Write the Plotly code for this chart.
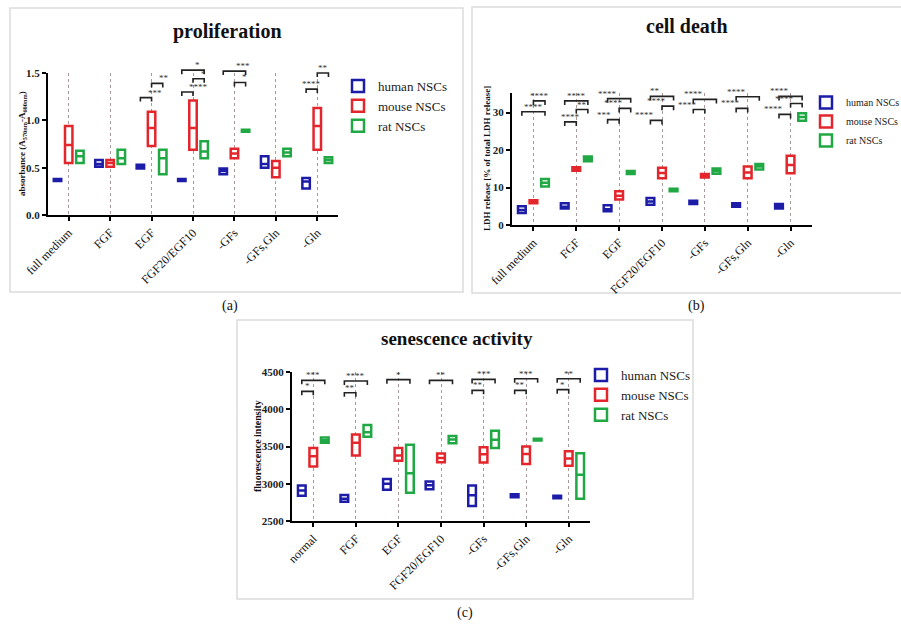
import plotly.graph_objects as go

# ---------------- data ----------------
cats_ab = ["full medium", "FGF", "EGF", "FGF20/EGF10", "-GFs", "-GFs,Gln", "-Gln"]
cats_c = ["normal", "FGF", "EGF", "FGF20/EGF10", "-GFs", "-GFs,Gln", "-Gln"]
species = ["human NSCs", "mouse NSCs", "rat NSCs"]
colors = ["#1c1ca8", "#e3262c", "#1fa843"]

# proliferation (absorbance): low / median / high
prolif_human_low = [0.36, 0.51, 0.49, 0.36, 0.43, 0.50, 0.28]
prolif_human_mid = [0.37, 0.54, 0.51, 0.37, 0.465, 0.54, 0.355]
prolif_human_high = [0.38, 0.58, 0.53, 0.38, 0.49, 0.62, 0.39]
prolif_mouse_low = [0.55, 0.51, 0.73, 0.69, 0.60, 0.40, 0.69]
prolif_mouse_mid = [0.74, 0.55, 0.92, 0.92, 0.65, 0.50, 0.94]
prolif_mouse_high = [0.94, 0.58, 1.09, 1.21, 0.70, 0.57, 1.13]
prolif_rat_low = [0.55, 0.54, 0.43, 0.60, 0.88, 0.62, 0.55]
prolif_rat_mid = [0.62, 0.60, 0.60, 0.67, 0.89, 0.66, 0.58]
prolif_rat_high = [0.68, 0.69, 0.69, 0.78, 0.90, 0.70, 0.61]

# cell death (LDH release %)
death_human_low = [3.2, 4.4, 3.7, 5.4, 5.6, 4.9, 4.4]
death_human_mid = [4.0, 4.9, 4.2, 6.3, 6.0, 5.3, 5.0]
death_human_high = [5.0, 5.8, 5.3, 7.2, 6.5, 5.8, 5.6]
death_mouse_low = [5.8, 14.5, 6.8, 12.5, 12.7, 12.5, 13.8]
death_mouse_mid = [6.2, 15.0, 7.8, 13.9, 13.1, 14.0, 16.0]
death_mouse_high = [6.6, 15.4, 9.0, 15.3, 13.6, 15.6, 18.5]
death_rat_low = [10.3, 17.0, 13.6, 9.0, 13.7, 14.8, 27.8]
death_rat_mid = [11.3, 17.7, 14.0, 9.3, 14.4, 15.6, 28.8]
death_rat_high = [12.3, 18.3, 14.4, 9.7, 15.1, 16.3, 29.8]

# senescence activity (fluorescence intensity)
sen_human_low = [2840, 2760, 2920, 2925, 2700, 2820, 2805]
sen_human_mid = [2910, 2800, 3000, 2980, 2845, 2840, 2820]
sen_human_high = [2975, 2850, 3065, 3030, 2975, 2860, 2840]
sen_mouse_low = [3230, 3380, 3310, 3290, 3285, 3265, 3240]
sen_mouse_mid = [3370, 3550, 3380, 3345, 3395, 3400, 3340]
sen_mouse_high = [3480, 3660, 3480, 3405, 3490, 3500, 3435]
sen_rat_low = [3550, 3630, 2880, 3545, 3480, 3580, 2800]
sen_rat_mid = [3585, 3690, 3140, 3595, 3590, 3590, 3120]
sen_rat_high = [3620, 3790, 3525, 3640, 3710, 3605, 3410]

# significance brackets: (category index, group from, group to, level, label)
prolif_sig = [
    (2, 0, 1, 1.24, "***"), (2, 1, 2, 1.39, "**"),
    (3, 0, 1, 1.30, "****"), (3, 1, 2, 1.44, "*"), (3, 0, 2, 1.53, "*"),
    (4, 0, 2, 1.52, "***"), (4, 1, 2, 1.40, "*"),
    (6, 0, 1, 1.33, "****"), (6, 1, 2, 1.50, "**"),
]
death_sig = [
    (0, 0, 2, 30.2, "****"), (0, 1, 2, 33.1, "****"),
    (1, 0, 1, 27.5, "****"), (1, 1, 2, 30.8, "**"), (1, 0, 2, 33.1, "****"),
    (2, 0, 1, 28.1, "***"), (2, 1, 2, 31.1, "****"), (2, 0, 2, 33.7, "****"),
    (3, 0, 1, 27.9, "****"), (3, 1, 2, 31.7, "****"), (3, 0, 2, 34.3, "**"),
    (4, 0, 1, 30.8, "****"), (4, 0, 2, 33.5, "****"),
    (5, 0, 1, 31.1, "****"), (5, 0, 2, 34.2, "****"),
    (6, 0, 1, 29.5, "****"), (6, 1, 2, 32.4, "****"), (6, 0, 2, 34.3, "****"),
]
sen_sig = [
    (0, 0, 1, 4240, "*"), (0, 0, 2, 4388, "***"),
    (1, 0, 1, 4222, "**"), (1, 0, 2, 4379, "****"),
    (2, 0, 2, 4397, "*"),
    (3, 0, 2, 4388, "**"),
    (4, 0, 1, 4254, "**"), (4, 0, 2, 4401, "***"),
    (5, 0, 1, 4254, "**"), (5, 0, 2, 4410, "***"),
    (6, 0, 1, 4263, "*"), (6, 0, 2, 4410, "**"),
]

# ---------------- layout helpers ----------------
W, H = 901, 624
FONT = "Liberation Serif"
OFFS = [-0.27, 0.0, 0.27]
BOXW = 0.18
XR = [-0.5, 6.5]


def fx(px):
    return px / W


def fy(py):
    return 1 - py / H


panels = [
    dict(ax="", cats=cats_ab, legend="legend", xdom=(48, 338), ydom=(215, 73), yr=[0, 1.5],
         data=[(prolif_human_low, prolif_human_mid, prolif_human_high),
               (prolif_mouse_low, prolif_mouse_mid, prolif_mouse_high),
               (prolif_rat_low, prolif_rat_mid, prolif_rat_high)],
         sig=prolif_sig),
    dict(ax="2", cats=cats_ab, legend="legend2", xdom=(512, 812), ydom=(225, 93), yr=[0, 35.2],
         data=[(death_human_low, death_human_mid, death_human_high),
               (death_mouse_low, death_mouse_mid, death_mouse_high),
               (death_rat_low, death_rat_mid, death_rat_high)],
         sig=death_sig),
    dict(ax="3", cats=cats_c, legend="legend3", xdom=(292, 590), ydom=(521, 372), yr=[2500, 4500],
         data=[(sen_human_low, sen_human_mid, sen_human_high),
               (sen_mouse_low, sen_mouse_mid, sen_mouse_high),
               (sen_rat_low, sen_rat_mid, sen_rat_high)],
         sig=sen_sig),
]


def data_to_paper(p, xv, yv):
    x0, x1 = fx(p["xdom"][0]), fx(p["xdom"][1])
    y0, y1 = fy(p["ydom"][0]), fy(p["ydom"][1])
    px = x0 + (xv - XR[0]) / (XR[1] - XR[0]) * (x1 - x0)
    py = y0 + (yv - p["yr"][0]) / (p["yr"][1] - p["yr"][0]) * (y1 - y0)
    return px, py


fig = go.Figure()
shapes = []
annotations = []
TICK = 4 / H

for p in panels:
    for g, (lo, md, hi) in enumerate(p["data"]):
        fig.add_trace(go.Box(
            x=[i + OFFS[g] for i in range(len(p["cats"]))],
            q1=lo, median=md, q3=hi, lowerfence=lo, upperfence=hi,
            width=BOXW, whiskerwidth=0, boxpoints=False,
            fillcolor="white", line=dict(color=colors[g], width=2.5),
            name=species[g], legend=p["legend"],
            xaxis="x" + p["ax"], yaxis="y" + p["ax"], hoverinfo="skip",
        ))
    for (ci, g1, g2, lvl, lab) in p["sig"]:
        xa, yl = data_to_paper(p, ci + OFFS[g1], lvl)
        xb, _ = data_to_paper(p, ci + OFFS[g2], lvl)
        shapes.append(dict(
            type="path", xref="paper", yref="paper",
            path=f"M{xa},{yl - TICK} L{xa},{yl} L{xb},{yl} L{xb},{yl - TICK}",
            line=dict(color="#222", width=1.6),
        ))
        annotations.append(dict(
            x=(xa + xb) / 2, y=yl, xref="paper", yref="paper",
            text=lab, showarrow=False, yanchor="bottom", yshift=-2,
            font=dict(family=FONT, size=9, color="#333"),
        ))

# panel frames
for (l, t, r, b) in [(10, 8, 463, 292), (472, 7, 930, 293), (237, 320, 693, 599)]:
    shapes.append(dict(type="rect", xref="paper", yref="paper",
                       x0=fx(l), x1=fx(r), y0=fy(b), y1=fy(t),
                       line=dict(color="#dcdcdc", width=1.5), layer="below"))

# titles, axis titles and panel letters
for (txt, x, y, s, bold, ang) in [
    ("proliferation", 228, 31, 20, True, 0),
    ("cell death", 687, 26, 20, True, 0),
    ("senescence activity", 457, 338, 19, True, 0),
    ("(a)", 230, 306, 14, False, 0),
    ("(b)", 696, 306, 14, False, 0),
    ("(c)", 465, 613, 14, False, 0),
    ("absorbance (A<sub>570nm</sub>-A<sub>600nm</sub>)", 22, 144, 9, True, -90),
    ("LDH release [% of total LDH release]", 487, 159, 9, True, -90),
    ("fluorescence intensity", 257, 446, 10, True, -90),
]:
    annotations.append(dict(x=fx(x), y=fy(y), xref="paper", yref="paper",
                            text=f"<b>{txt}</b>" if bold else txt, showarrow=False,
                            xanchor="center", yanchor="middle", textangle=ang,
                            font=dict(family=FONT, size=s, color="#111")))


def xaxis(p):
    return dict(domain=[fx(p["xdom"][0]), fx(p["xdom"][1])], anchor="y" + p["ax"], range=XR,
                tickvals=list(range(len(p["cats"]))), ticktext=p["cats"], tickangle=-45,
                showline=True, linecolor="black", linewidth=2, automargin=False,
                ticks="outside", ticklen=4, tickwidth=1.5, tickcolor="black",
                showgrid=True, gridcolor="#a89a9a", griddash="dot", gridwidth=1,
                zeroline=False, fixedrange=True,
                tickfont=dict(family=FONT, size=12, color="#111"))


def yaxis(p, tv, fmt=None):
    d = dict(domain=[fy(p["ydom"][0]), fy(p["ydom"][1])], anchor="x" + p["ax"], range=p["yr"],
             tickvals=tv, showline=True, linecolor="black", linewidth=2, automargin=False,
             ticks="outside", ticklen=4, tickwidth=1.5, tickcolor="black",
             showgrid=False, zeroline=False, fixedrange=True,
             tickfont=dict(family=FONT, size=11, color="#222", weight="bold"))
    if fmt:
        d["tickformat"] = fmt
    return d


def legend(x, y, size):
    return dict(x=fx(x), y=fy(y), xref="container", yref="container",
                xanchor="left", yanchor="top",
                bgcolor="rgba(0,0,0,0)", itemclick=False, itemdoubleclick=False,
                font=dict(family=FONT, size=size, color="#222"))


fig.update_layout(
    width=W, height=H, margin=dict(l=0, r=0, t=0, b=0, autoexpand=False),
    paper_bgcolor="white", plot_bgcolor="white",
    boxmode="overlay", showlegend=True,
    xaxis=xaxis(panels[0]),
    yaxis=yaxis(panels[0], [0, 0.5, 1.0, 1.5], ".1f"),
    xaxis2=xaxis(panels[1]),
    yaxis2=yaxis(panels[1], [0, 10, 20, 30]),
    xaxis3=xaxis(panels[2]),
    yaxis3=yaxis(panels[2], [2500, 3000, 3500, 4000, 4500]),
    legend=legend(338, 71, 13),
    legend2=legend(806, 88, 10),
    legend3=legend(581, 360, 13),
    shapes=shapes, annotations=annotations,
)

fig.write_html("out.html", config={"displayModeBar": False},
               post_script="document.body.style.margin='0px';")
